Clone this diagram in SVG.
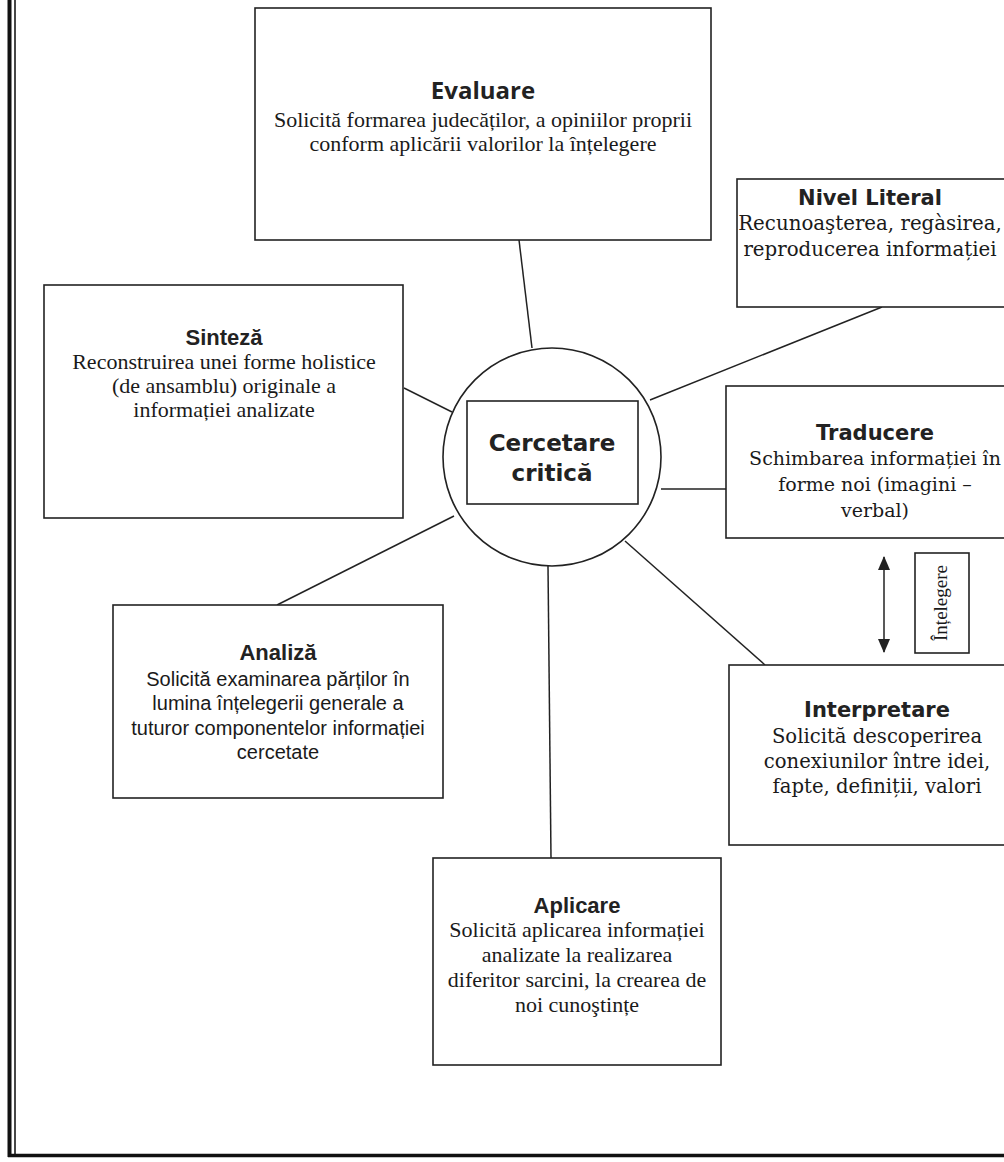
<svg xmlns="http://www.w3.org/2000/svg" width="1004" height="1162" viewBox="0 0 1004 1162">
<style>
.box{fill:#fff;stroke:#222;stroke-width:1.6}
.con{stroke:#222;stroke-width:1.5;fill:none}
.ts{font-family:"Liberation Sans",Arial,sans-serif;font-weight:bold;font-size:22px;fill:#222;text-anchor:middle}
.tv{font-family:"DejaVu Sans",Verdana,sans-serif;font-weight:bold;font-size:21px;fill:#222;text-anchor:middle}
.tc{font-family:"Open Sans",Calibri,sans-serif;font-weight:bold;font-size:24px;fill:#222;text-anchor:middle}
.bt{font-family:"Liberation Serif","Times New Roman",serif;font-size:22px;fill:#1a1a1a;text-anchor:middle}
.bb{font-family:"DejaVu Serif",Bookman,serif;font-size:19px;fill:#1a1a1a;text-anchor:middle}
.ba{font-family:"Liberation Sans",Arial,sans-serif;font-size:20px;fill:#1a1a1a;text-anchor:middle}
</style>
<defs>
<marker id="ah" viewBox="0 0 14 12" refX="13" refY="6" markerWidth="14" markerHeight="12" markerUnits="userSpaceOnUse" orient="auto-start-reverse">
<path d="M0,0 L14,6 L0,12 z" fill="#222"/>
</marker>
</defs>
<rect width="1004" height="1162" fill="#fff"/>
<g id="frame">
<line x1="9.5" y1="0" x2="9.5" y2="1157" stroke="#111" stroke-width="4"/>
<line x1="15" y1="0" x2="15" y2="1157" stroke="#333" stroke-width="1.8"/>
<line x1="8" y1="1155.5" x2="1004" y2="1155.5" stroke="#111" stroke-width="3.5"/>
</g>
<g id="connectors">
<line class="con" x1="519" y1="240" x2="532" y2="348"/>
<line class="con" x1="882" y1="307" x2="650" y2="400"/>
<line class="con" x1="404" y1="388" x2="452" y2="412"/>
<line class="con" x1="661" y1="489" x2="727" y2="489"/>
<line class="con" x1="625" y1="541" x2="765" y2="665"/>
<line class="con" x1="454" y1="516" x2="277" y2="605"/>
<line class="con" x1="548" y1="566" x2="551" y2="858"/>
<line class="con" x1="884" y1="557" x2="884" y2="652" marker-start="url(#ah)" marker-end="url(#ah)"/>
</g>
<g id="evaluare">
<rect class="box" x="255" y="8" width="456" height="232"/>
<text class="tc" x="483" y="99">Evaluare</text>
<text class="bt" x="483" y="127">Solicită formarea judecăților, a opiniilor proprii</text>
<text class="bt" x="483" y="151">conform aplicării valorilor la înțelegere</text>
</g>
<g id="nivel-literal">
<rect class="box" x="737" y="179" width="280" height="128"/>
<text class="tv" x="870" y="205">Nivel Literal</text>
<text class="bb" x="870" y="230" style="font-size:19.8px">Recunoaşterea, regàsirea,</text>
<text class="bb" x="870" y="256" style="font-size:19.8px">reproducerea informației</text>
</g>
<g id="sinteza">
<rect class="box" x="44" y="285" width="359" height="233"/>
<text class="ts" x="224" y="345">Sinteză</text>
<text class="bt" x="224" y="369">Reconstruirea unei forme holistice</text>
<text class="bt" x="224" y="393">(de ansamblu)  originale a</text>
<text class="bt" x="224" y="417">informației analizate</text>
</g>
<g id="cercetare-critica">
<circle class="box" cx="552" cy="457" r="109"/>
<rect class="box" x="467" y="401" width="171" height="103"/>
<text class="tv" x="552" y="451" style="font-size:23px">Cercetare</text>
<text class="tv" x="552" y="481" style="font-size:23px">critică</text>
</g>
<g id="traducere">
<rect class="box" x="726" y="386" width="290" height="152"/>
<text class="tv" x="875" y="440">Traducere</text>
<text class="bb" x="875" y="465">Schimbarea informației în</text>
<text class="bb" x="875" y="491">forme noi (imagini –</text>
<text class="bb" x="875" y="517">verbal)</text>
</g>
<g id="intelegere">
<rect class="box" x="915" y="553" width="54" height="100"/>
<text class="bt" transform="translate(947,603) rotate(-90)" style="font-size:19px">Înțelegere</text>
</g>
<g id="interpretare">
<rect class="box" x="729" y="665" width="290" height="180"/>
<text class="tv" x="877" y="717">Interpretare</text>
<text class="bb" x="877" y="743" style="font-size:19.6px">Solicită descoperirea</text>
<text class="bb" x="877" y="768" style="font-size:19.6px">conexiunilor între idei,</text>
<text class="bb" x="877" y="793" style="font-size:19.6px">fapte, definiții, valori</text>
</g>
<g id="analiza">
<rect class="box" x="113" y="605" width="330" height="193"/>
<text class="ts" x="278" y="660">Analiză</text>
<text class="ba" x="278" y="686">Solicită examinarea părților în</text>
<text class="ba" x="278" y="710">lumina înțelegerii generale a</text>
<text class="ba" x="278" y="735">tuturor componentelor informației</text>
<text class="ba" x="278" y="759">cercetate</text>
</g>
<g id="aplicare">
<rect class="box" x="433" y="858" width="288" height="207"/>
<text class="ts" x="577" y="913">Aplicare</text>
<text class="bt" x="577" y="937">Solicită aplicarea informației</text>
<text class="bt" x="577" y="962">analizate la realizarea</text>
<text class="bt" x="577" y="987">diferitor sarcini, la crearea de</text>
<text class="bt" x="577" y="1012">noi cunoştințe</text>
</g>
</svg>
